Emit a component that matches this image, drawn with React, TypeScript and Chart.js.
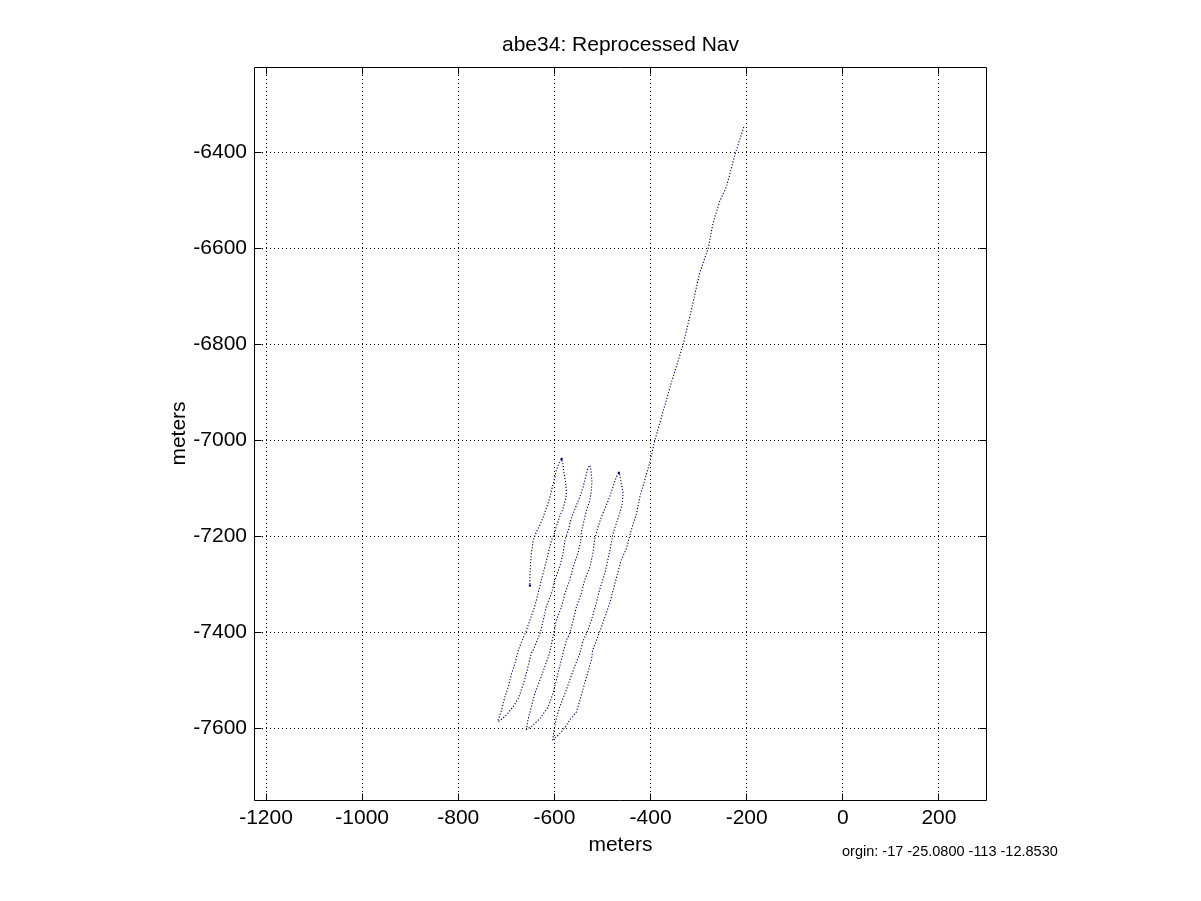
import React, { useEffect, useRef } from 'react';
import { Chart, registerables } from 'chart.js';

Chart.register(...registerables);

const titleText = 'abe34: Reprocessed Nav';
const xAxisLabel = 'meters';
const yAxisLabel = 'meters';
const originText = 'orgin: -17 -25.0800 -113 -12.8530';

const xTicks = [-1200, -1000, -800, -600, -400, -200, 0, 200];
const yTicks = [-7600, -7400, -7200, -7000, -6800, -6600, -6400];
const xRange = [-1225, 300];
const yRange = [-7750, -6222];

// Vehicle track, in order of travel (east / north in meters)
const trackX = [
  // long descent leg
  -206, -223, -242, -256, -270, -280, -298, -315, -332, -357, -377, -391, -402, -412, -422, -429,
  -440, -450, -461, -474, -485, -502, -520, -523, -537, -547, -554, -568, -578, -592, -603,
  // up leg 1
  -601, -596, -589, -578, -568, -558, -547, -540, -533, -523, -513, -506, -495, -485, -478, -471,
  -464, -459, -457, -461, -464, -466,
  // down leg 2
  -471, -478, -485, -493, -502, -509, -516, -520, -526, -537, -544, -554, -561, -568, -575, -582,
  -589, -596, -603, -613, -630, -648, -658,
  // up leg 2
  -655, -648, -641, -630, -620, -610, -603, -596, -585, -578, -568, -561, -551, -545, -544, -538,
  -533, -526, -523, -522, -524, -526,
  // down leg 3
  -530, -535, -540, -547, -558, -565, -571, -578, -582, -589, -599, -606, -617, -623, -630, -644,
  -648, -655, -662, -669, -675, -686, -700, -714, -717,
  // up leg 3
  -717, -710, -703, -696, -689, -682, -675, -667, -658, -651, -641, -634, -627, -620, -613, -606,
  -601, -596, -589, -582, -576, -575, -577, -580, -582, -585,
  // final descent
  -590, -596, -601, -606, -611, -617, -623, -630, -637, -644, -648, -650, -651, -651,
];
const trackY = [
  -6347, -6400, -6471, -6502, -6547, -6600, -6652, -6728, -6800, -6881, -6951, -7000, -7048, -7083, -7117, -7152,
  -7187, -7225, -7250, -7298, -7340, -7389, -7437, -7458, -7507, -7542, -7566, -7583, -7599, -7615, -7624,
  -7604, -7580, -7556, -7528, -7500, -7472, -7444, -7417, -7403, -7375, -7340, -7312, -7277, -7232, -7194, -7173,
  -7152, -7132, -7111, -7090, -7072, -7068,
  -7076, -7097, -7118, -7138, -7159, -7180, -7205, -7236, -7264, -7291, -7319, -7347, -7375, -7403, -7417, -7444,
  -7472, -7500, -7528, -7556, -7580, -7597, -7603,
  -7583, -7556, -7528, -7500, -7472, -7444, -7410, -7375, -7347, -7319, -7291, -7264, -7236, -7208, -7191, -7166,
  -7145, -7125, -7104, -7083, -7062, -7052,
  -7058, -7076, -7097, -7118, -7145, -7163, -7187, -7208, -7236, -7264, -7291, -7319, -7347, -7375, -7403, -7437,
  -7444, -7472, -7500, -7521, -7538, -7556, -7573, -7585, -7587,
  -7583, -7563, -7535, -7514, -7486, -7465, -7437, -7417, -7396, -7375, -7347, -7319, -7291, -7264, -7236, -7208,
  -7198, -7180, -7159, -7142, -7121, -7104, -7086, -7069, -7052, -7039,
  -7048, -7062, -7086, -7104, -7125, -7142, -7159, -7177, -7190, -7208, -7236, -7264, -7284, -7303,
];
const markerX = [-585, -466, -651];
const markerY = [-7039, -7068, -7303];

const FONT = '"Liberation Sans", Arial, Helvetica, sans-serif';
const lineColor = '#00005a';

const boxPlugin = {
  id: 'matlabBox',
  afterDraw(chart: any) {
    const { ctx, chartArea: a, scales } = chart;
    const left = Math.round(a.left) + 0.5;
    const right = Math.round(a.right) - 0.5;
    const top = Math.round(a.top) + 0.5;
    const bottom = Math.round(a.bottom) + 0.5;
    const tl = 7;
    ctx.save();
    ctx.setLineDash([]);
    ctx.strokeStyle = '#000';
    ctx.lineWidth = 1;
    ctx.beginPath();
    ctx.moveTo(left, top);
    ctx.lineTo(right, top);
    ctx.lineTo(right, bottom);
    ctx.lineTo(left, bottom);
    ctx.closePath();
    xTicks.forEach((v) => {
      const p = Math.round(scales.x.getPixelForValue(v) - 0.5) + 0.5;
      ctx.moveTo(p, bottom);
      ctx.lineTo(p, bottom - tl);
      ctx.moveTo(p, top);
      ctx.lineTo(p, top + tl);
    });
    yTicks.forEach((v) => {
      const p = Math.round(scales.y.getPixelForValue(v) - 0.5) + 0.5;
      ctx.moveTo(left, p);
      ctx.lineTo(left + tl, p);
      ctx.moveTo(right, p);
      ctx.lineTo(right - tl, p);
    });
    ctx.stroke();
    ctx.font = '14.5px ' + FONT;
    ctx.fillStyle = '#000';
    ctx.textAlign = 'left';
    ctx.textBaseline = 'alphabetic';
    ctx.fillText(originText, 842, 856);
    ctx.restore();
  },
};

export default function App() {
  const ref = useRef<HTMLCanvasElement>(null);
  useEffect(() => {
    const canvas = ref.current;
    if (!canvas) return;
    const track = trackX.map((x, i) => ({ x, y: trackY[i] }));
    const markers = markerX.map((x, i) => ({ x, y: markerY[i] }));
    const chart = new Chart(canvas, {
      type: 'scatter',
      data: {
        datasets: [
          {
            label: 'nav',
            data: track,
            showLine: true,
            borderColor: lineColor,
            borderWidth: 1.1,
            borderDash: [1.2, 1.8],
            pointRadius: 0,
            tension: 0,
            fill: false,
          },
          {
            label: 'marks',
            data: markers,
            showLine: false,
            pointStyle: 'rect',
            pointRadius: 1.5,
            backgroundColor: lineColor,
            borderColor: lineColor,
            borderWidth: 0,
          },
        ],
      },
      plugins: [boxPlugin],
      options: {
        responsive: false,
        animation: false,
        devicePixelRatio: 1,
        layout: { padding: { left: 0, right: 214, top: 0, bottom: 0 } },
        plugins: {
          legend: { display: false },
          tooltip: { enabled: false },
          title: {
            display: true,
            text: titleText,
            fullSize: false,
            color: '#000',
            font: { family: FONT, size: 21, weight: 'normal' },
            padding: { top: 33, bottom: 8.8 },
          },
        },
        scales: {
          x: {
            type: 'linear',
            position: 'bottom',
            min: xRange[0],
            max: xRange[1],
            afterBuildTicks: (scale: any) => {
              scale.ticks = xTicks.map((v) => ({ value: v }));
            },
            afterFit: (scale: any) => {
              scale.height = 101;
            },
            grid: { color: '#000', lineWidth: 1, drawTicks: false },
            border: { display: false, dash: [1, 3] },
            ticks: {
              color: '#000',
              padding: 6,
              maxRotation: 0,
              autoSkip: false,
              font: { family: FONT, size: 21 },
              callback: (v: any) => String(v),
            },
            title: {
              display: true,
              text: xAxisLabel,
              color: '#000',
              font: { family: FONT, size: 21 },
              padding: { top: 0, bottom: 43 },
            },
          },
          y: {
            type: 'linear',
            position: 'left',
            min: yRange[0],
            max: yRange[1],
            afterBuildTicks: (scale: any) => {
              scale.ticks = yTicks.map((v) => ({ value: v }));
            },
            afterFit: (scale: any) => {
              scale.width = 254;
            },
            grid: { color: '#000', lineWidth: 1, drawTicks: false },
            border: { display: false, dash: [1, 3] },
            ticks: {
              color: '#000',
              padding: 7,
              autoSkip: false,
              font: { family: FONT, size: 21 },
              callback: (v: any) => String(v),
            },
            title: {
              display: true,
              text: yAxisLabel,
              color: '#000',
              font: { family: FONT, size: 21 },
              padding: { top: 167, bottom: 0 },
            },
          },
        },
      } as any,
    });
    return () => chart.destroy();
  }, []);
  return (
    <div
      style={{
        position: 'fixed',
        left: 0,
        top: 0,
        width: 1201,
        height: 901,
        background: '#fff',
        overflow: 'hidden',
      }}
    >
      <canvas ref={ref} width={1201} height={901} style={{ display: 'block', width: 1201, height: 901 }} />
    </div>
  );
}
